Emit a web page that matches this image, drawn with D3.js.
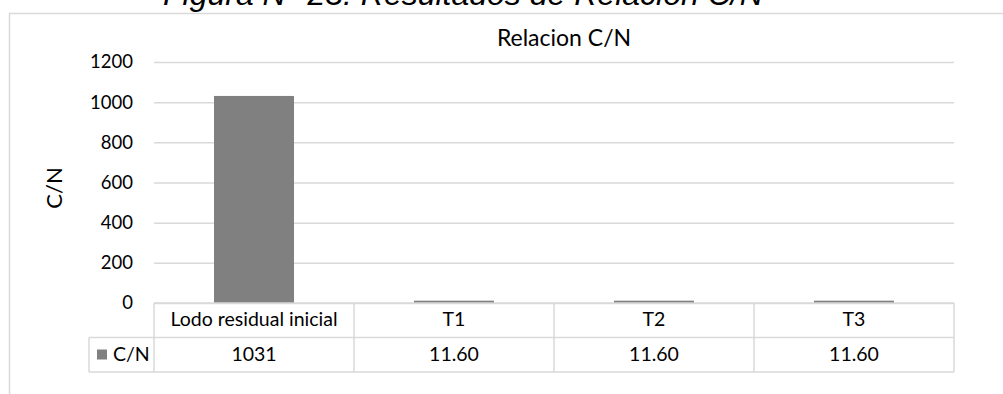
<!DOCTYPE html>
<html>
<head>
<meta charset="utf-8">
<script src="https://cdn.jsdelivr.net/npm/d3@7"></script>
<style>
  html, body { margin: 0; padding: 0; background: #ffffff; }
  svg { display: block; }
</style>
</head>
<body>
<svg id="chart" width="1003" height="394"></svg>
<script>
// Chart data
const categories = ["Lodo residual inicial", "T1", "T2", "T3"];
const seriesName = "C/N";
const values = [1031, 11.60, 11.60, 11.60];
const valueLabels = ["1031", "11.60", "11.60", "11.60"];
const yTicks = [0, 200, 400, 600, 800, 1000, 1200];
const chartTitle = "Relacion C/N";
const yTitle = "C/N";
const caption = "Figura N° 23: Resultados de Relación C/N";

const svg = d3.select("#chart");
const font = "Lato, 'Noto Sans', sans-serif";
const lineCol = "#d9d9d9";
const barCol = "#808080";

// Plot area
const plotLeft = 154, plotRight = 954, plotTop = 62, plotBase = 303;
const rowH = 34.5;

const x = d3.scaleBand().domain(categories).range([plotLeft, plotRight]).paddingInner(0.6).paddingOuter(0.3);
const col = d3.scaleBand().domain(categories).range([plotLeft, plotRight]);
const y = d3.scaleLinear().domain([0, 1200]).range([plotBase, plotTop]);

// Chart area border
svg.append("rect")
  .attr("x", 9.5).attr("y", 13.5)
  .attr("width", 1200).attr("height", 600)
  .attr("fill", "#fff")
  .attr("stroke", lineCol).attr("stroke-width", 1.5);

// Caption above the chart (runs past the top edge)
svg.append("text")
  .attr("x", 163).attr("y", 5)
  .attr("font-family", "'Liberation Sans', Arial, sans-serif")
  .attr("font-style", "italic")
  .attr("font-size", 32)
  .attr("fill", "#000")
  .text(caption);

// Title
svg.append("text")
  .attr("x", 564).attr("y", 45.5)
  .attr("text-anchor", "middle")
  .attr("font-family", font).attr("font-size", 23)
  .attr("fill", "#000")
  .text(chartTitle);

// Y axis with gridlines
const yAxis = svg.append("g")
  .attr("transform", `translate(${plotLeft},0)`)
  .call(d3.axisLeft(y).tickValues(yTicks).tickSize(-(plotRight - plotLeft)).tickPadding(21).tickFormat(d3.format("d")));
yAxis.select(".domain").remove();
yAxis.selectAll(".tick line").attr("stroke", lineCol).attr("stroke-width", 1.5);
yAxis.selectAll(".tick text")
  .attr("font-family", font).attr("font-size", 18.5).attr("fill", "#000");

// Y axis title
svg.append("text")
  .attr("transform", "translate(62,188) rotate(-90)")
  .attr("text-anchor", "middle")
  .attr("font-family", font).attr("font-size", 22)
  .attr("fill", "#000")
  .text(yTitle);

// Bars
svg.append("g").selectAll("rect")
  .data(values)
  .join("rect")
  .attr("x", (d, i) => x(categories[i]))
  .attr("width", x.bandwidth())
  .attr("y", d => y(d))
  .attr("height", d => y(0) - y(d))
  .attr("fill", barCol);

// Data table
const table = svg.append("g").attr("fill", "none").attr("stroke", lineCol).attr("stroke-width", 1.5);
const legendLeft = 89;
table.append("line").attr("x1", plotLeft).attr("x2", plotRight).attr("y1", plotBase).attr("y2", plotBase);
table.append("line").attr("x1", legendLeft).attr("x2", plotRight).attr("y1", plotBase + rowH).attr("y2", plotBase + rowH);
table.append("line").attr("x1", legendLeft).attr("x2", plotRight).attr("y1", plotBase + 2 * rowH).attr("y2", plotBase + 2 * rowH);
table.append("line").attr("x1", legendLeft).attr("x2", legendLeft).attr("y1", plotBase + rowH).attr("y2", plotBase + 2 * rowH);
const edges = categories.map(c => col(c)).concat([plotRight]);
table.selectAll("line.v").data(edges).join("line")
  .attr("class", "v")
  .attr("x1", d => d).attr("x2", d => d)
  .attr("y1", plotBase).attr("y2", plotBase + 2 * rowH);

// Category row
svg.append("g").selectAll("text")
  .data(categories)
  .join("text")
  .attr("x", d => col(d) + col.bandwidth() / 2)
  .attr("y", plotBase + 23)
  .attr("text-anchor", "middle")
  .attr("font-family", font).attr("font-size", 19.5)
  .attr("fill", "#000")
  .text(d => d);

// Values row
svg.append("g").selectAll("text")
  .data(valueLabels)
  .join("text")
  .attr("x", (d, i) => col(categories[i]) + col.bandwidth() / 2)
  .attr("y", plotBase + rowH + 23)
  .attr("text-anchor", "middle")
  .attr("font-family", font).attr("font-size", 19.5)
  .attr("fill", "#000")
  .text(d => d);

// Legend key in the table
svg.append("rect")
  .attr("x", 97).attr("y", plotBase + rowH + 12)
  .attr("width", 10).attr("height", 10)
  .attr("fill", barCol);
svg.append("text")
  .attr("x", 113).attr("y", plotBase + rowH + 23)
  .attr("font-family", font).attr("font-size", 19.5)
  .attr("fill", "#000")
  .text(seriesName);
</script>
</body>
</html>
